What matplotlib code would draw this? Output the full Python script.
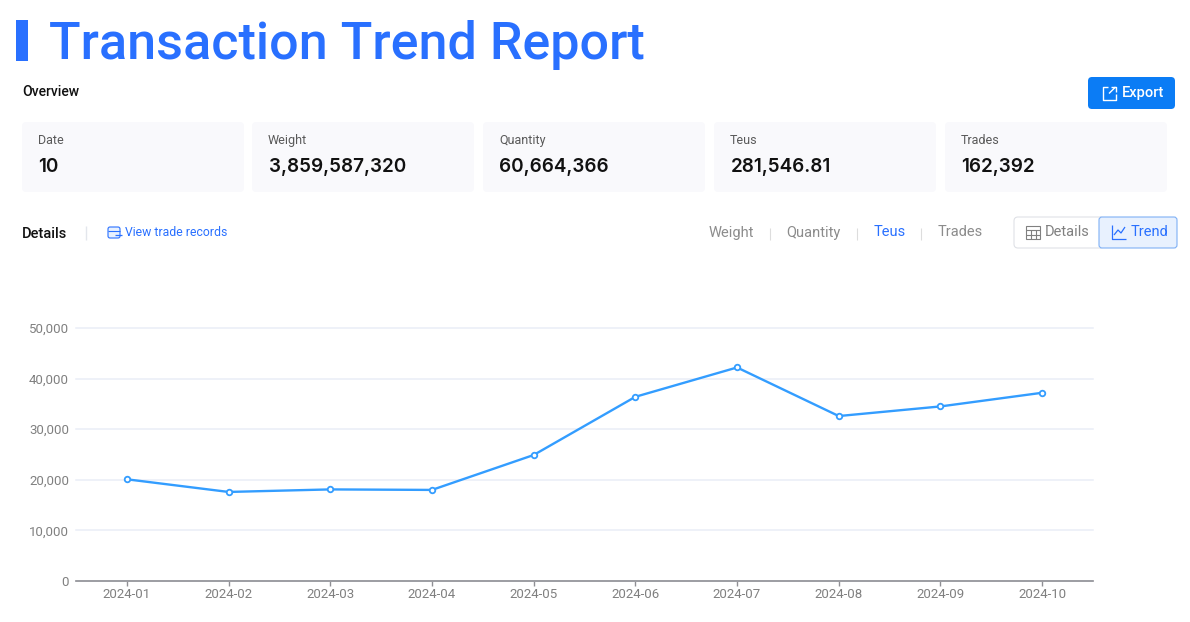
import matplotlib
matplotlib.use("Agg")
import matplotlib.pyplot as plt
from matplotlib.patches import FancyBboxPatch, Rectangle

plt.rcParams['font.family'] = ['Roboto', 'DejaVu Sans']

months = ["2024-01", "2024-02", "2024-03", "2024-04", "2024-05",
          "2024-06", "2024-07", "2024-08", "2024-09", "2024-10"]
teus = [20100, 17600, 18100, 18000, 24900, 36400, 42200, 32600, 34500, 37200]
y_ticks = [0, 10000, 20000, 30000, 40000, 50000]

card_labels = ["Date", "Weight", "Quantity", "Teus", "Trades"]
card_values = ["10", "3,859,587,320", "60,664,366", "281,546.81", "162,392"]
card_left = [22, 252, 483, 714, 945]
tab_labels = ["Weight", "Quantity", "Teus", "Trades"]
tab_x = [709, 786, 874, 938]
tab_sep = [770, 857, 921]

BLUE = "#2970ff"
W, H = 1190, 622

fig = plt.figure(figsize=(W / 100, H / 100), dpi=100)

# overlay in pixel coords for the page furniture
ui = fig.add_axes([0, 0, 1, 1])
ui.set_xlim(0, W)
ui.set_ylim(H, 0)
ui.axis("off")


def box(x, y, w, h, r, **kw):
    p = FancyBboxPatch((x + r, y + r), w - 2 * r, h - 2 * r,
                       boxstyle="round,pad=%d,rounding_size=%d" % (r, r), **kw)
    ui.add_patch(p)
    return p


def seg(xs, ys, color, lw=1.0):
    ui.plot(xs, ys, color=color, lw=lw, solid_capstyle="butt")


# title
ui.add_patch(Rectangle((16, 20), 12, 41, color="#2970ff", lw=0))
ui.text(49, 59, "Transaction Trend Report", fontsize=37.5, color=BLUE,
        family="Roboto", weight="medium", va="baseline")

ui.text(22, 91.5, "Overview", fontsize=10, color="#111111", weight="medium", va="center")

# export button
box(1088, 77, 87, 32, 4, fc="#0b7cf5", ec="none")
ui.text(1122, 93.5, "Export", fontsize=10.5, color="white", weight="medium", va="center")
seg([1108, 1102.5, 1102.5, 1115.5, 1115.5], [87, 87, 100, 100, 94], "white")
seg([1109, 1115.5], [93.5, 87], "white")
seg([1111, 1115.5, 1115.5], [87, 87, 91.5], "white")

# overview cards
for x, lab, val in zip(card_left, card_labels, card_values):
    box(x, 122, 222, 70, 4, fc="#f9f9fc", ec="none")
    ui.text(x + 16, 140.5, lab, fontsize=9, color="#595959", va="center")
    ui.text(x + 16.5, 167.5, val, fontsize=13.6, color="#111111", family="Inter",
            weight="semibold", va="center")

# details row
ui.text(22, 233.5, "Details", fontsize=10.5, color="#111111", weight="medium", va="center")
seg([86, 86], [226, 240], "#e3e6ec", 1)
ui.text(125, 232.5, "View trade records", fontsize=8.8, color=BLUE, va="center")
box(108, 227, 12, 11, 2, fc="#e8f1fe", ec=BLUE, lw=0.8)
seg([108, 120], [231, 231], BLUE, 0.8)
seg([115, 122], [235, 235], BLUE, 0.9)

for x, lab in zip(tab_x, tab_labels):
    c = BLUE if lab == "Teus" else "#8c8c8c"
    ui.text(x, 232.5, lab, fontsize=10.5, color=c, va="center")
for x in tab_sep:
    seg([x, x], [228, 240], "#dddddd", 0.8)

# details / trend toggle
box(1014, 217, 90, 31, 4, fc="white", ec="#dfe1e6", lw=0.8)
box(1099, 217, 78, 31, 3, fc="#e8f1fe", ec="#7fb0f5", lw=0.8)
ui.text(1045, 232.5, "Details", fontsize=10.5, color="#808080", va="center")
ui.text(1131, 232.5, "Trend", fontsize=10.5, color=BLUE, va="center")
ui.add_patch(Rectangle((1026, 226), 14, 13, fc="none", ec="#808080", lw=0.8))
seg([1026, 1040], [230, 230], "#808080", 0.8)
seg([1026, 1040], [234.5, 234.5], "#808080", 0.8)
seg([1031, 1031], [230, 239], "#808080", 0.8)
seg([1035.5, 1035.5], [230, 239], "#808080", 0.8)
seg([1112, 1112, 1126], [225, 239, 239], BLUE, 0.9)
seg([1114, 1118, 1121, 1125], [235, 230, 233, 227], BLUE, 0.9)

# the chart itself
left, right, top, bottom = 76, 1093, 328, 581
ax = fig.add_axes([left / W, 1 - bottom / H, (right - left) / W, (bottom - top) / H])
ax.patch.set_alpha(0)
x = list(range(len(months)))
ax.plot(x, teus, color="#339dff", lw=1.7, marker="o", ms=4, mfc="white",
        mec="#339dff", mew=1.3, clip_on=False, zorder=3)
ax.set_xlim(-0.5, len(months) - 0.5)
ax.set_ylim(0, 50000)
ax.set_yticks(y_ticks)
ax.set_yticklabels(["{:,}".format(v) for v in y_ticks])
ax.set_xticks(x)
ax.set_xticklabels(months)
ax.grid(axis="y", color="#e9edf7", lw=1.1, clip_on=False)
ax.set_axisbelow(True)
for s in ["top", "right", "left"]:
    ax.spines[s].set_visible(False)
ax.spines["bottom"].set_color("#8f8f94")
ax.spines["bottom"].set_linewidth(1.2)
ax.tick_params(axis="y", length=0, pad=5, labelsize=9.5, labelcolor="#808080")
ax.tick_params(axis="x", length=3.6, width=1, color="#8f8f94", pad=1.5, labelsize=9.5,
               labelcolor="#808080")

fig.savefig("out.png", dpi=100)
